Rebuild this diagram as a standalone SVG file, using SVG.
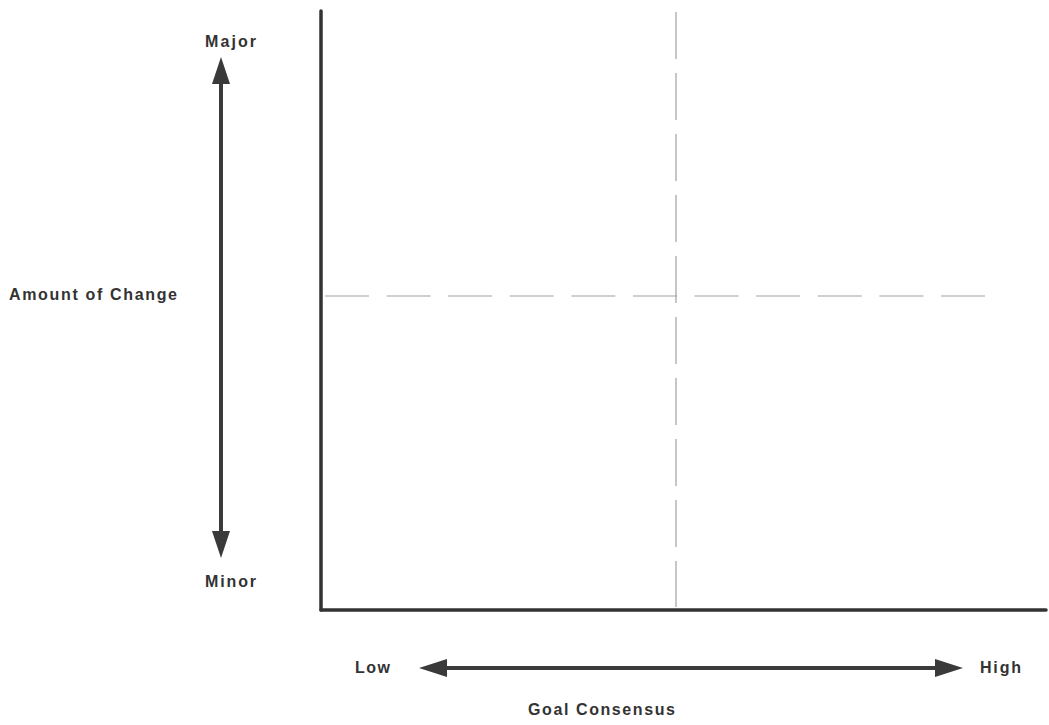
<svg xmlns="http://www.w3.org/2000/svg" width="1049" height="725" viewBox="0 0 1049 725">
  <style>
    .label { font-family: "Liberation Sans", Arial, sans-serif; font-size: 16px; font-weight: bold; fill: #333; }
    .axis { stroke: #333; stroke-width: 3.5; stroke-linecap: round; fill: none; }
    .divider { stroke: #a0a0a0; stroke-width: 1.2; fill: none; }
    .shaft { stroke: #3a3a3a; stroke-width: 4; fill: none; }
    .head { fill: #3a3a3a; }
  </style>
  <rect width="1049" height="725" fill="#ffffff"/>

  <!-- quadrant frame: vertical and horizontal axes -->
  <g id="frame">
    <line class="axis" x1="321" y1="11" x2="321" y2="610"/>
    <line class="axis" x1="321" y1="610" x2="1046" y2="610"/>
  </g>

  <!-- dashed quadrant dividers -->
  <g id="dividers">
    <line class="divider" x1="676" y1="12" x2="676" y2="607" stroke-dasharray="47 14"/>
    <line class="divider" x1="325" y1="296" x2="985" y2="296" stroke-dasharray="44 17.6"/>
  </g>

  <!-- double-headed scale arrows -->
  <g id="connectors">
    <g id="change-arrow">
      <line class="shaft" x1="221" y1="80" x2="221" y2="535"/>
      <polygon class="head" points="221,57 212,84 230,84"/>
      <polygon class="head" points="221,558 212,531 230,531"/>
    </g>
    <g id="consensus-arrow">
      <line class="shaft" x1="442" y1="668" x2="942" y2="668"/>
      <polygon class="head" points="419,668 447,659 447,677"/>
      <polygon class="head" points="963,668 935,659 935,677"/>
    </g>
  </g>

  <!-- axis labels -->
  <g id="label-major"><text class="label" x="205" y="47" textLength="51" lengthAdjust="spacing">Major</text></g>
  <g id="label-minor"><text class="label" x="205" y="587" textLength="51" lengthAdjust="spacing">Minor</text></g>
  <g id="label-change"><text class="label" x="9" y="300" textLength="168" lengthAdjust="spacing">Amount of Change</text></g>
  <g id="label-low"><text class="label" x="355" y="673" textLength="35" lengthAdjust="spacing">Low</text></g>
  <g id="label-high"><text class="label" x="980" y="673" textLength="41" lengthAdjust="spacing">High</text></g>
  <g id="label-consensus"><text class="label" x="528" y="715" textLength="147" lengthAdjust="spacing">Goal Consensus</text></g>
</svg>
